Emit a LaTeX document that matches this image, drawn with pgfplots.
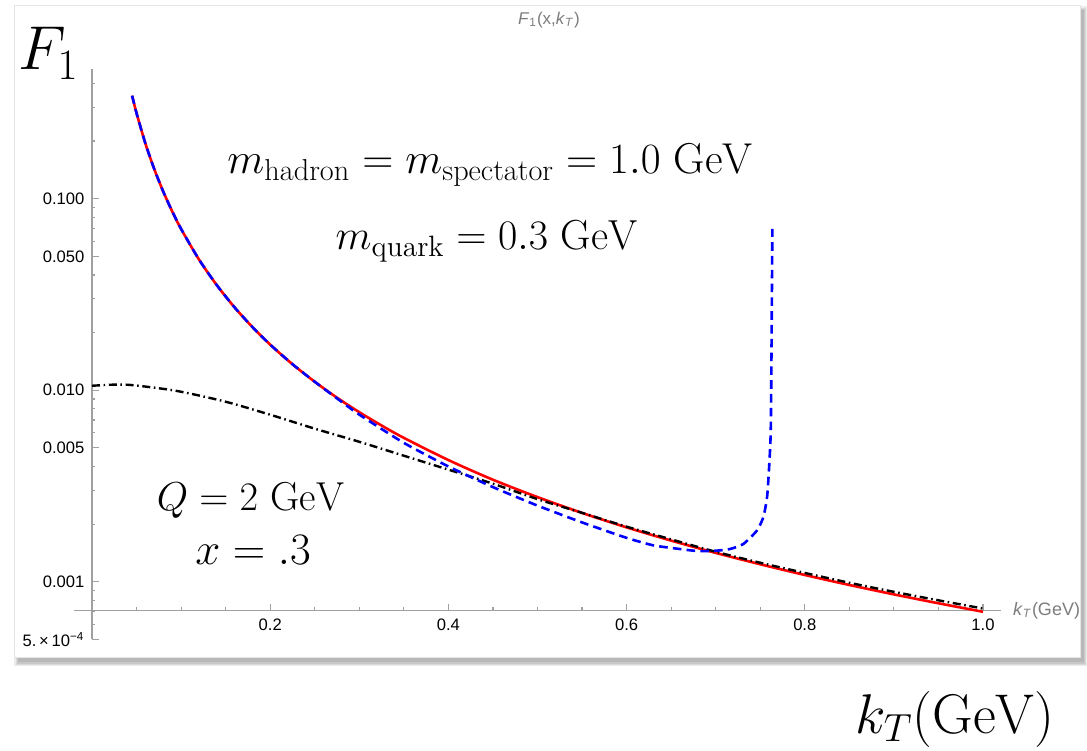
\RequirePackage{fix-cm}
\documentclass[border=0pt]{standalone}
\usepackage{fontspec}
\usepackage{pgfplots}
\pgfplotsset{compat=1.18}
\newfontfamily\sfont{Liberation Sans}
\definecolor{axgray}{RGB}{160,160,160}
\definecolor{ttlgray}{RGB}{125,125,125}
\definecolor{cred}{RGB}{255,0,0}
\definecolor{cblue}{RGB}{0,0,255}

% F_1(x,k_T) at x = 0.3, Q = 2 GeV
\pgfplotstableread{
kt F
0.045 0.3452
0.05 0.2794
0.06 0.1937
0.07 0.1422
0.08 0.1088
0.09 0.0859
0.10 0.0695
0.12 0.0482
0.14 0.0354
0.16 0.02707
0.18 0.02138
0.20 0.01730
0.225 0.01367
0.25 0.01107
0.275 0.00914
0.30 0.00768
0.325 0.006544
0.35 0.00564
0.40 0.00432
0.45 0.00341
0.50 0.002767
0.55 0.002288
0.60 0.001923
0.65 0.001640
0.70 0.001415
0.75 0.001234
0.80 0.001085
0.85 0.000962
0.90 0.000859
0.95 0.000772
1.00 0.000697
}\redtab

\pgfplotstableread{
kt F
0.0 0.01055
0.02 0.01068
0.04 0.01068
0.07 0.01031
0.1 0.00982
0.15 0.00871
0.2 0.00745
0.25 0.00630
0.3 0.00538
0.35 0.00455
0.4 0.00385
0.45 0.00325
0.5 0.00270
0.55 0.00229
0.6 0.00194
0.65 0.001665
0.7 0.001434
0.75 0.001257
0.8 0.001112
0.85 0.000988
0.9 0.000886
0.95 0.000800
1.0 0.000725
}\blacktab

\pgfplotstableread{
kt F
0.045 0.3452
0.05 0.2794
0.06 0.1937
0.07 0.1422
0.08 0.1088
0.09 0.0859
0.10 0.0695
0.12 0.0482
0.14 0.0354
0.16 0.02707
0.18 0.02138
0.20 0.01730
0.225 0.01367
0.25 0.01107
0.28 0.00871
0.30 0.00746
0.35 0.00531
0.40 0.00400
0.45 0.00312
0.50 0.002498
0.55 0.002041
0.60 0.001695
0.63 0.001549
0.66 0.001482
0.68 0.001446
0.70 0.001452
0.716 0.001482
0.731 0.001574
0.746 0.001845
0.7534 0.00217
0.758 0.00287
0.7617 0.0059
0.7628 0.02047
0.7636 0.0695
}\bluetab

\begin{document}
\begin{tikzpicture}[x=1pt,y=1pt]
\useasboundingbox (-37.1,-55.3) rectangle (506.4,319.7);
% soft shadow and white panel
\foreach \k in {0,1,2,3}{
  \fill[black,opacity=0.08] ({-28.1-\k*0.6},{-11.5-\k*0.6}) rectangle ({504.9+\k*0.6},{314.7+\k*0.6});
}
\fill[white,draw=black!10,line width=0.4pt] (-30.1,-8.8) rectangle (502.9,317.2);

\begin{axis}[
  scale only axis, width=463.3pt, height=285.2pt,
  at={(0,0)}, anchor=south west,
  xmin=-0.02, xmax=1.02,
  ymode=log, ymin=5e-4, ymax=0.4756,
  axis x line=bottom, axis y line=left,
  axis x line shift=-14.36pt, axis y line shift=-8.91pt,
  axis line style={draw=axgray, line width=0.6pt, -},
  tick style={draw=axgray, line width=0.6pt},
  tick align=inside,
  major tick length=3.3pt, minor tick length=1.7pt,
  xtick={0.2,0.4,0.6,0.8,1.0},
  xticklabels={0.2,0.4,0.6,0.8,1.0},
  minor xtick={0.05,0.1,0.15,0.25,0.3,0.35,0.45,0.5,0.55,0.65,0.7,0.75,0.85,0.9,0.95},
  ytick={5e-4,0.001,0.005,0.01,0.05,0.1},
  yticklabels={5.\,×\,10\textsuperscript{−4},0.001,0.005,0.010,0.050,0.100},
  minor ytick={6e-4,7e-4,8e-4,9e-4,0.002,0.003,0.004,0.006,0.007,0.008,0.009,0.02,0.03,0.04,0.06,0.07,0.08,0.09,0.2,0.3,0.4},
  tick label style={font=\sfont\fontsize{8.3}{10}\selectfont, black},
  yticklabel style={xshift=-0.3pt},
  xticklabel style={yshift=-0.6pt},
  clip=false,
]
\addplot[cred, line width=1.3pt, smooth, tension=0.5] table[x=kt,y=F] {\redtab};
\addplot[black, line width=1.2pt, smooth, tension=0.5,
  dash pattern=on 4pt off 1.8pt on 0.8pt off 1.8pt] table[x=kt,y=F] {\blacktab};
\addplot[cblue, line width=1.3pt, smooth, tension=0.35,
  dash pattern=on 4.3pt off 2.6pt] table[x=kt,y=F] {\bluetab};
\node[anchor=west, text=ttlgray, font=\sfont\fontsize{9}{11}\selectfont, inner sep=0pt, xshift=6pt]
  at (axis cs:1.02,7.06e-4) {\textit{k}\textsubscript{\textit{T}}(GeV)};
\end{axis}

% plot title
\node[text=ttlgray, font=\sfont\fontsize{8.5}{10}\selectfont] at (237.4,309.7)
  {\textit{F}\textsubscript{1}(x,\textit{k}\textsubscript{\textit{T}})};

% annotations
\node[anchor=base west, inner sep=0pt, font=\fontsize{31}{36}\selectfont] at (-28.1,284.7) {$F_1$};
\node[anchor=base east, inner sep=0pt, font=\fontsize{28}{33}\selectfont] at (490.4,-46.8) {$k_T(\mathrm{GeV})$};
\node[anchor=base, inner sep=0pt, font=\fontsize{21.6}{26}\selectfont] at (207.9,232.7)
  {$m_{\rm hadron} = m_{\rm spectator} = 1.0\ {\rm GeV}$};
\node[anchor=base, inner sep=0pt, font=\fontsize{21}{25}\selectfont] at (206.2,194.7)
  {$m_{\rm quark} = 0.3\ {\rm GeV}$};
\node[anchor=base, inner sep=0pt, font=\fontsize{20.2}{24}\selectfont] at (88.2,64.7)
  {$Q = 2\ {\rm GeV}$};
\node[anchor=base, inner sep=0pt, font=\fontsize{22.5}{27}\selectfont] at (89.4,37.7)
  {$x = .3$};
\end{tikzpicture}
\end{document}
